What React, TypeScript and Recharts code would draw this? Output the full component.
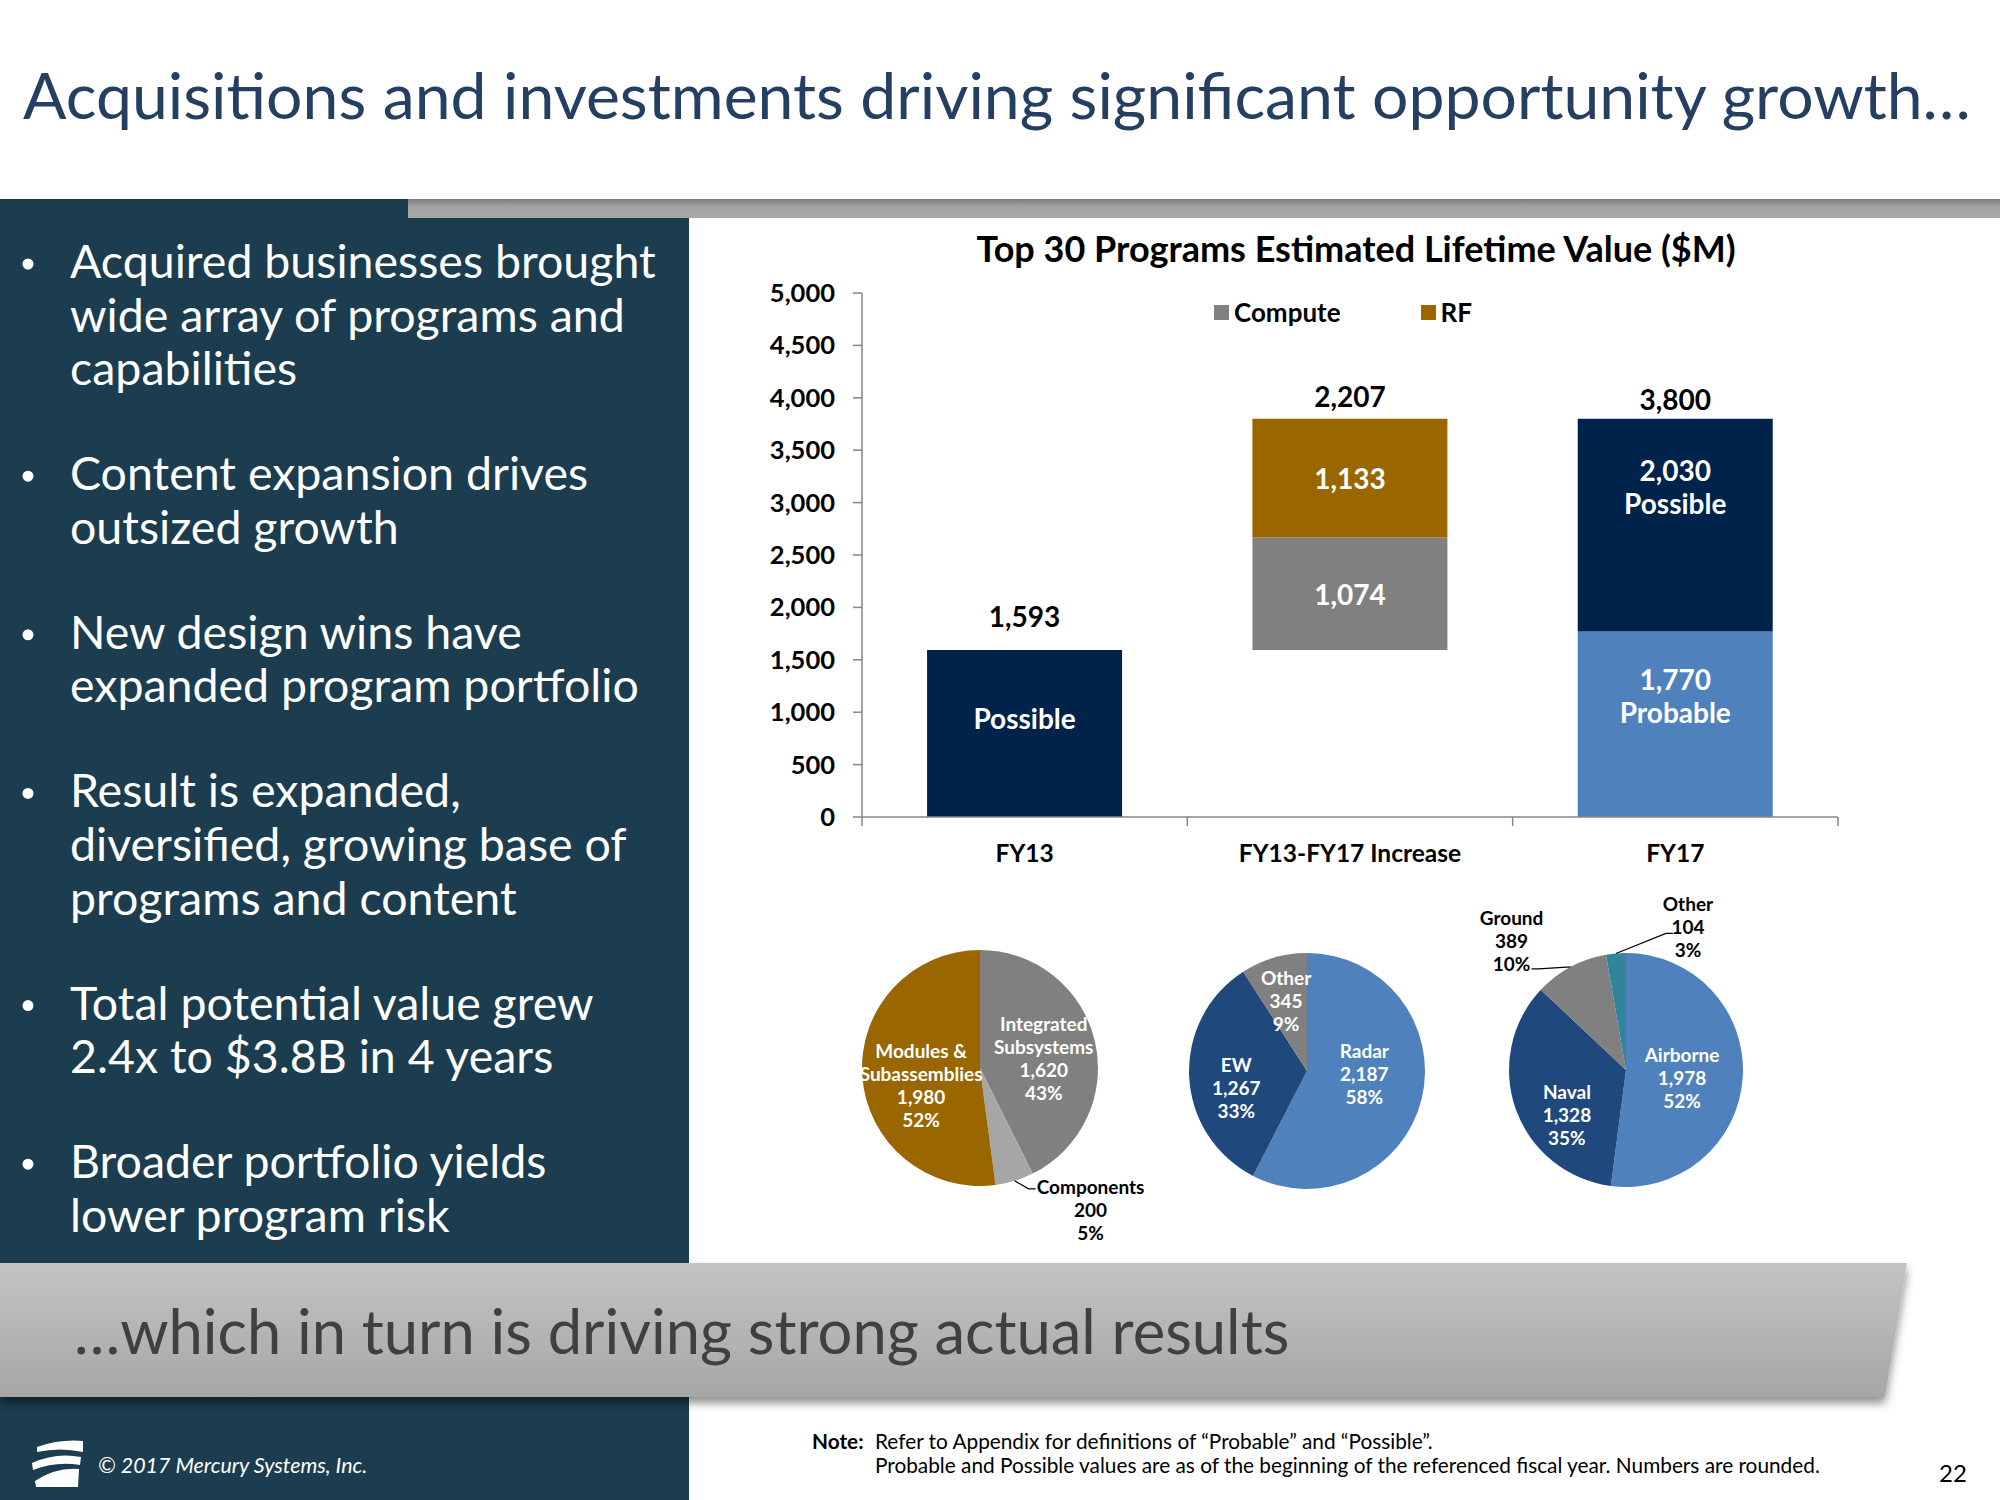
import { Bar, BarChart, Cell, LabelList, Legend, Pie, PieChart, XAxis, YAxis } from 'recharts'

// waterfall: FY13 -> increase -> FY17 ($M)
const CATEGORIES = ['FY13', 'FY13-FY17 Increase', 'FY17']
const SPACER = [0, 1593, 0]
const PROBABLE = [0, 0, 1770]
const COMPUTE = [0, 1074, 0]
const RF = [0, 1133, 0]
const POSSIBLE = [1593, 0, 2030]
const Y_TICKS = [0, 500, 1000, 1500, 2000, 2500, 3000, 3500, 4000, 4500, 5000]

const SEGMENT_NAMES = ['Integrated\nSubsystems', 'Components', 'Modules &\nSubassemblies']
const SEGMENT_VALUES = [1620, 200, 1980]
const MARKET_NAMES = ['Radar', 'EW', 'Other']
const MARKET_VALUES = [2187, 1267, 345]
const PLATFORM_NAMES = ['Airborne', 'Naval', 'Ground', 'Other']
const PLATFORM_VALUES = [1978, 1328, 389, 104]

const BULLETS = [
  ['Acquired businesses brought', 'wide array of programs and', 'capabilities'],
  ['Content expansion drives', 'outsized growth'],
  ['New design wins have', 'expanded program portfolio'],
  ['Result is expanded,', 'diversified, growing base of', 'programs and content'],
  ['Total potential value grew', '2.4x to $3.8B in 4 years'],
  ['Broader portfolio yields', 'lower program risk'],
]

const FONT = 'Lato, "Open Sans", sans-serif'
const NAVY = '#00234B'
const LIGHT_BLUE = '#4F81BD'
const DARK_BLUE = '#1F497D'
const GREY = '#808080'
const LIGHT_GREY = '#A6A6A6'
const BROWN = '#996600'
const TEAL = '#31849B'
const PANEL = '#1B3D4F'
const AXIS = '#868686'

const SEGMENT_COLORS = [GREY, LIGHT_GREY, BROWN]
const MARKET_COLORS = [LIGHT_BLUE, DARK_BLUE, GREY]
const PLATFORM_COLORS = [LIGHT_BLUE, DARK_BLUE, GREY, TEAL]

const fmt = (n: number) => n.toLocaleString('en-US')

const barData = CATEGORIES.map((name, i) => ({
  name,
  spacer: SPACER[i],
  probable: PROBABLE[i],
  compute: COMPUTE[i],
  rf: RF[i],
  possible: POSSIBLE[i],
}))

const STACK: Record<string, number[]> = {
  spacer: SPACER,
  probable: PROBABLE,
  compute: COMPUTE,
  rf: RF,
  possible: POSSIBLE,
}
const STACK_ORDER = ['spacer', 'probable', 'compute', 'rf', 'possible']
const VISIBLE = ['probable', 'compute', 'rf', 'possible']
const SERIES_NAME: Record<string, string> = { probable: 'Probable', possible: 'Possible' }
// how far the total sits above each bar
const TOTAL_GAP = [23, 12, 9]

function topKey(index: number) {
  let key = ''
  STACK_ORDER.forEach((k) => {
    if (STACK[k][index] > 0) key = k
  })
  return key
}

// zero-height segments get dropped, so find the row from the payload / value
function rowIndex(props: any, key: string) {
  const p = props.payload ?? props.entry?.payload
  if (p && typeof p.name === 'string') return CATEGORIES.indexOf(p.name)
  let v = props.value
  if (Array.isArray(v)) v = v[1] - v[0]
  return STACK[key].findIndex((x) => x > 0 && x === Number(v))
}

function barLabel(key: string) {
  return (props: any) => {
    const vb = props.viewBox ?? props
    const x = Number(vb.x ?? props.x)
    const y0 = Number(vb.y ?? props.y)
    const h0 = Number(vb.height ?? props.height)
    const width = Number(vb.width ?? props.width)
    const index = rowIndex(props, key)
    if (index < 0) return null
    const v = STACK[key][index]
    if (!v) return null
    const top = Math.min(y0, y0 + h0)
    const height = Math.abs(h0)
    const cx = x + width / 2
    const cy = top + height / 2
    const parts = VISIBLE.filter((k) => STACK[k][index] > 0).length
    let lines: string[]
    let lift = 0
    if (!SERIES_NAME[key]) lines = [fmt(v)]
    else if (parts === 1) {
      lines = [SERIES_NAME[key]]
      lift = 16
    } else {
      lines = [fmt(v), SERIES_NAME[key]]
      lift = key === 'possible' ? 39 : 29
    }
    const step = 33
    return (
      <g>
        <text
          textAnchor="middle"
          dominantBaseline="central"
          fill="#fff"
          fontSize={28}
          fontWeight={700}
          fontFamily={FONT}
        >
          {lines.map((l, i) => (
            <tspan key={i} x={cx} y={cy - lift + (i - (lines.length - 1) / 2) * step}>
              {l}
            </tspan>
          ))}
        </text>
        {topKey(index) === key ? (
          <text
            x={cx}
            y={top - TOTAL_GAP[index]}
            textAnchor="middle"
            fill="#000"
            fontSize={28}
            fontWeight={700}
            fontFamily={FONT}
          >
            {fmt(VISIBLE.reduce((s, k) => s + STACK[k][index], 0))}
          </text>
        ) : null}
      </g>
    )
  }
}

function CategoryTick(props: any) {
  const { x, y, payload, index, visibleTicksCount } = props
  const half = Number(payload?.offset ?? 0)
  const last = index === (visibleTicksCount ?? 3) - 1
  return (
    <g>
      <line x1={x - half} x2={x - half} y1={y} y2={y + 9} stroke={AXIS} strokeWidth={1.5} />
      {last ? <line x1={x + half} x2={x + half} y1={y} y2={y + 9} stroke={AXIS} strokeWidth={1.5} /> : null}
      <text x={x} y={y + 45} textAnchor="middle" fill="#000" fontSize={24.5} fontWeight={700} fontFamily={FONT}>
        {payload.value}
      </text>
    </g>
  )
}

function LegendContent(props: any) {
  const items = (props.payload ?? []).filter((item: any) => item.type !== 'none')
  return (
    <div style={{ display: 'flex', fontFamily: FONT, fontWeight: 700, fontSize: 26, color: '#000' }}>
      {items.map((item: any) => (
        <div key={item.value} style={{ display: 'flex', alignItems: 'center', marginRight: 80 }}>
          <span style={{ width: 15, height: 15, background: item.color, marginRight: 5, display: 'inline-block' }} />
          <span>{item.value}</span>
        </div>
      ))}
    </div>
  )
}

function LifetimeValueChart() {
  return (
    <BarChart
      width={1160}
      height={680}
      data={barData}
      margin={{ top: 73, right: 22, bottom: 23, left: 0 }}
      barCategoryGap="20%"
    >
      <XAxis
        dataKey="name"
        height={60}
        axisLine={{ stroke: AXIS, strokeWidth: 1.5 }}
        tickLine={false}
        tickSize={0}
        tickMargin={0}
        interval={0}
        tick={<CategoryTick />}
      />
      <YAxis
        width={162}
        domain={[0, 5000]}
        ticks={Y_TICKS}
        interval={0}
        tickFormatter={fmt}
        axisLine={{ stroke: AXIS, strokeWidth: 1.5 }}
        tickLine={{ stroke: AXIS, strokeWidth: 1.5 }}
        tickSize={9}
        tickMargin={18}
        tick={{ fill: '#000', fontSize: 25.5, fontWeight: 700, fontFamily: FONT }}
      />
      <Legend
        layout="horizontal"
        verticalAlign="middle"
        align="center"
        content={<LegendContent />}
        wrapperStyle={{ top: 76, left: 514, width: 420, height: 32 }}
      />
      <Bar dataKey="spacer" stackId="a" fill="transparent" legendType="none" isAnimationActive={false} />
      <Bar dataKey="probable" stackId="a" fill={LIGHT_BLUE} legendType="none" isAnimationActive={false}>
        <LabelList dataKey="probable" content={barLabel('probable')} />
      </Bar>
      <Bar dataKey="compute" name="Compute" stackId="a" fill={GREY} isAnimationActive={false}>
        <LabelList dataKey="compute" content={barLabel('compute')} />
      </Bar>
      <Bar dataKey="rf" name="RF" stackId="a" fill={BROWN} isAnimationActive={false}>
        <LabelList dataKey="rf" content={barLabel('rf')} />
      </Bar>
      <Bar dataKey="possible" stackId="a" fill={NAVY} legendType="none" isAnimationActive={false}>
        <LabelList dataKey="possible" content={barLabel('possible')} />
      </Bar>
    </BarChart>
  )
}

// label placement: inside (r = share of radius, plus nudge) or outside with a leader
// out = [line end dx, dy, text centre dx, dy] measured from the slice edge
type Place = { r?: number; dx?: number; dy?: number; out?: number[] }
const SEGMENT_PLACES: Place[] = [{ r: 0.52, dx: 4, dy: 4 }, { out: [21, 8, 76, 28] }, { r: 0.5, dy: 13 }]
const MARKET_PLACES: Place[] = [{ r: 0.5, dy: -12 }, { r: 0.6, dy: 13 }, { r: 0.63 }]
const PLATFORM_PLACES: Place[] = [
  { r: 0.48, dy: 3 },
  { r: 0.5, dx: -4, dy: 24 },
  { out: [-39, 2, -59, -27] },
  { out: [57, -20, 72, -27] },
]

const RAD = Math.PI / 180

function pieLabel(places: Place[], names: string[], values: number[]) {
  const total = values.reduce((s, v) => s + v, 0)
  return (props: any) => {
    const { cx, cy, midAngle, outerRadius, index } = props
    const place = places[index]
    const ux = Math.cos(-midAngle * RAD)
    const uy = Math.sin(-midAngle * RAD)
    const lines = [...names[index].split('\n'), fmt(values[index]), `${Math.round((values[index] / total) * 100)}%`]
    let tx: number
    let ty: number
    let leader = null
    let color = '#fff'
    if (place.out) {
      const [lx, ly, ox, oy] = place.out
      const ex = cx + outerRadius * ux
      const ey = cy + outerRadius * uy
      const endX = ex + lx
      const endY = ey + ly
      const bendX = endX - Math.sign(lx) * 7
      leader = <polyline points={`${ex},${ey} ${bendX},${endY} ${endX},${endY}`} fill="none" stroke="#000" strokeWidth={1.2} />
      tx = ex + ox
      ty = ey + oy
      color = '#000'
    } else {
      const r = (place.r ?? 0.5) * outerRadius
      tx = cx + r * ux + (place.dx ?? 0)
      ty = cy + r * uy + (place.dy ?? 0)
    }
    return (
      <g>
        {leader}
        <text textAnchor="middle" dominantBaseline="central" fill={color} fontSize={19} fontWeight={700} fontFamily={FONT}>
          {lines.map((l, i) => (
            <tspan key={i} x={tx} y={ty + (i - (lines.length - 1) / 2) * 23}>
              {l}
            </tspan>
          ))}
        </text>
      </g>
    )
  }
}

const pieRows = (names: string[], values: number[]) => names.map((name, i) => ({ name, value: values[i] }))

function MixPies() {
  return (
    <PieChart width={960} height={380} margin={{ top: 0, right: 0, bottom: 0, left: 0 }}>
      <Pie
        data={pieRows(SEGMENT_NAMES, SEGMENT_VALUES)}
        dataKey="value"
        cx={140}
        cy={188}
        outerRadius={118}
        startAngle={90}
        endAngle={-270}
        stroke="none"
        labelLine={false}
        label={pieLabel(SEGMENT_PLACES, SEGMENT_NAMES, SEGMENT_VALUES)}
        isAnimationActive={false}
      >
        {SEGMENT_COLORS.map((c) => (
          <Cell key={c} fill={c} stroke="none" />
        ))}
      </Pie>
      <Pie
        data={pieRows(MARKET_NAMES, MARKET_VALUES)}
        dataKey="value"
        cx={467}
        cy={191}
        outerRadius={118}
        startAngle={90}
        endAngle={-270}
        stroke="none"
        labelLine={false}
        label={pieLabel(MARKET_PLACES, MARKET_NAMES, MARKET_VALUES)}
        isAnimationActive={false}
      >
        {MARKET_COLORS.map((c) => (
          <Cell key={c} fill={c} stroke="none" />
        ))}
      </Pie>
      <Pie
        data={pieRows(PLATFORM_NAMES, PLATFORM_VALUES)}
        dataKey="value"
        cx={786}
        cy={190}
        outerRadius={117}
        startAngle={90}
        endAngle={-270}
        stroke="none"
        labelLine={false}
        label={pieLabel(PLATFORM_PLACES, PLATFORM_NAMES, PLATFORM_VALUES)}
        isAnimationActive={false}
      >
        {PLATFORM_COLORS.map((c) => (
          <Cell key={c} fill={c} stroke="none" />
        ))}
      </Pie>
    </PieChart>
  )
}

function SlideBackdrop() {
  let lineNo = 0
  return (
    <svg width={2000} height={1500} style={{ position: 'absolute', left: 0, top: 0 }} fontFamily={FONT}>
      <defs>
        <linearGradient id="topBar" x1="0" y1="0" x2="0" y2="1">
          <stop offset="0%" stopColor="#7c7c7c" />
          <stop offset="40%" stopColor="#a3a3a3" />
          <stop offset="100%" stopColor="#a8a8a8" />
        </linearGradient>
        <linearGradient id="banner" x1="0" y1="0" x2="0" y2="1">
          <stop offset="0%" stopColor="#c4c4c4" />
          <stop offset="100%" stopColor="#a6a6a6" />
        </linearGradient>
        <filter id="shadow" x="-5%" y="-20%" width="110%" height="150%">
          <feDropShadow dx="0" dy="6" stdDeviation="5" floodColor="#000" floodOpacity="0.45" />
        </filter>
      </defs>

      <text x={23} y={119} fontSize={64.3} fill="#243F62">
        Acquisitions and investments driving significant opportunity growth…
      </text>

      <rect x={0} y={199} width={689} height={1301} fill={PANEL} />
      <rect x={408} y={199} width={1592} height={19} fill="url(#topBar)" />

      {BULLETS.map((para, p) =>
        para.map((line, i) => {
          const y = 278 + lineNo * 53.6 + p * 51.4
          lineNo += 1
          return (
            <g key={`${p}-${i}`}>
              {i === 0 ? <circle cx={28} cy={y - 14} r={5.5} fill="#fff" /> : null}
              <text x={70} y={y} fontSize={46.5} fill="#fff">
                {line}
              </text>
            </g>
          )
        }),
      )}

      <text x={1356} y={262} textAnchor="middle" fontSize={36} fontWeight={700} fill="#000">
        Top 30 Programs Estimated Lifetime Value ($M)
      </text>

      <polygon points="0,1263 1907,1263 1885,1397 0,1397" fill="url(#banner)" filter="url(#shadow)" />
      <text x={74} y={1354} fontSize={61.5} fill="#404040">
        …which in turn is driving strong actual results
      </text>

      <g fill="#fff">
        <path d="M37 1447 Q60 1439 83 1441 L83 1452 Q60 1447 37 1452 Z" />
        <path d="M32 1463 Q56 1452 81 1457 L80 1465 Q56 1461 33 1470 Z" />
        <path d="M35 1481 Q56 1467 79 1469 L78 1487 L36 1487 Z" />
      </g>
      <text x={98} y={1473} fontSize={21.4} fontStyle="italic" fill="#fff">
        © 2017 Mercury Systems, Inc.
      </text>

      <text x={812} y={1449} fontSize={20.8} fill="#000">
        <tspan fontWeight={700}>Note:</tspan>
        <tspan x={875}>Refer to Appendix for definitions of “Probable” and “Possible”.</tspan>
        <tspan x={875} y={1473}>
          Probable and Possible values are as of the beginning of the referenced fiscal year. Numbers are rounded.
        </tspan>
      </text>
      <text x={1939} y={1482} fontSize={24} fill="#000">
        22
      </text>
    </svg>
  )
}

export default function App() {
  return (
    <div
      style={{
        position: 'absolute',
        left: 0,
        top: 0,
        width: 2000,
        height: 1500,
        background: '#fff',
        overflow: 'hidden',
        fontFamily: FONT,
      }}
    >
      <SlideBackdrop />
      <div style={{ position: 'absolute', left: 700, top: 220 }}>
        <LifetimeValueChart />
      </div>
      <div style={{ position: 'absolute', left: 840, top: 880 }}>
        <MixPies />
      </div>
    </div>
  )
}
